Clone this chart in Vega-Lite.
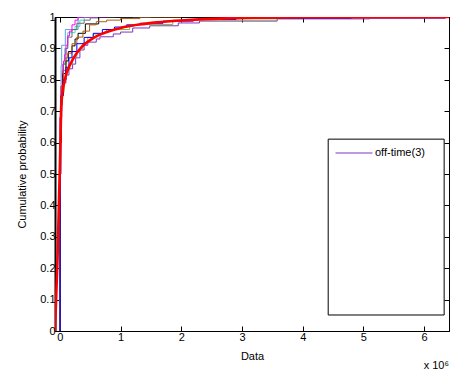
{
  "$schema": "https://vega.github.io/schema/vega-lite/v6.json",
  "width": 394,
  "height": 314,
  "autosize": {"type": "none"},
  "padding": {"left": 55, "top": 17, "right": 9, "bottom": 50},
  "config": {
    "view": {"stroke": "black", "strokeWidth": 1},
    "font": "Liberation Sans",
    "axis": {
      "grid": false, "domainColor": "black", "tickColor": "black", "labelColor": "black", "titleColor": "black",
      "labelFont": "Liberation Sans", "titleFont": "Liberation Sans", "labelFontSize": 11, "titleFontSize": 11,
      "titleFontWeight": "normal", "tickSize": -5, "labelPadding": 5
    }
  },
  "data": {"values": [
    {"series": "off-time(3)", "v": 0, "p": 0}, {"series": "off-time(3)", "v": 0, "p": 0.68}, {"series": "off-time(3)", "v": 0.01, "p": 0.72}, {"series": "off-time(3)", "v": 0.03, "p": 0.76}, {"series": "off-time(3)", "v": 0.06, "p": 0.79}, {"series": "off-time(3)", "v": 0.1, "p": 0.815}, {"series": "off-time(3)", "v": 0.15, "p": 0.835}, {"series": "off-time(3)", "v": 0.21, "p": 0.85}, {"series": "off-time(3)", "v": 0.26, "p": 0.87}, {"series": "off-time(3)", "v": 0.33, "p": 0.895}, {"series": "off-time(3)", "v": 0.4, "p": 0.91}, {"series": "off-time(3)", "v": 0.46, "p": 0.92}, {"series": "off-time(3)", "v": 0.6, "p": 0.93}, {"series": "off-time(3)", "v": 0.66, "p": 0.937}, {"series": "off-time(3)", "v": 0.88, "p": 0.946}, {"series": "off-time(3)", "v": 1.0, "p": 0.952}, {"series": "off-time(3)", "v": 1.2, "p": 0.965}, {"series": "off-time(3)", "v": 1.48, "p": 0.972}, {"series": "off-time(3)", "v": 1.95, "p": 0.981}, {"series": "off-time(3)", "v": 2.3, "p": 0.987}, {"series": "off-time(3)", "v": 3.58, "p": 0.994}, {"series": "off-time(3)", "v": 5.1, "p": 0.996}, {"series": "off-time(3)", "v": 6.35, "p": 1}, {"series": "off-time(3)", "v": 6.41, "p": 1},
    {"series": "off-time(1)", "v": 0, "p": 0}, {"series": "off-time(1)", "v": 0.003, "p": 0.57}, {"series": "off-time(1)", "v": 0.006, "p": 0.65}, {"series": "off-time(1)", "v": 0.02, "p": 0.72}, {"series": "off-time(1)", "v": 0.04, "p": 0.76}, {"series": "off-time(1)", "v": 0.07, "p": 0.8}, {"series": "off-time(1)", "v": 0.1, "p": 0.83}, {"series": "off-time(1)", "v": 0.15, "p": 0.85}, {"series": "off-time(1)", "v": 0.21, "p": 0.873}, {"series": "off-time(1)", "v": 0.28, "p": 0.89}, {"series": "off-time(1)", "v": 0.33, "p": 0.9}, {"series": "off-time(1)", "v": 0.38, "p": 0.917}, {"series": "off-time(1)", "v": 0.46, "p": 0.935}, {"series": "off-time(1)", "v": 0.55, "p": 0.946}, {"series": "off-time(1)", "v": 0.74, "p": 0.952}, {"series": "off-time(1)", "v": 0.77, "p": 0.96}, {"series": "off-time(1)", "v": 1.15, "p": 0.97}, {"series": "off-time(1)", "v": 1.22, "p": 0.976}, {"series": "off-time(1)", "v": 1.86, "p": 0.99}, {"series": "off-time(1)", "v": 3.58, "p": 0.995}, {"series": "off-time(1)", "v": 4.0, "p": 1}, {"series": "off-time(1)", "v": 4.5, "p": 1},
    {"series": "off-time(8)", "v": 0, "p": 0}, {"series": "off-time(8)", "v": 0.005, "p": 0.6}, {"series": "off-time(8)", "v": 0.02, "p": 0.845}, {"series": "off-time(8)", "v": 0.03, "p": 0.91}, {"series": "off-time(8)", "v": 0.09, "p": 0.96}, {"series": "off-time(8)", "v": 0.3, "p": 1}, {"series": "off-time(8)", "v": 0.7, "p": 1},
    {"series": "off-time(7)", "v": 0, "p": 0}, {"series": "off-time(7)", "v": 0.005, "p": 0.6}, {"series": "off-time(7)", "v": 0.02, "p": 0.78}, {"series": "off-time(7)", "v": 0.05, "p": 0.85}, {"series": "off-time(7)", "v": 0.08, "p": 0.9}, {"series": "off-time(7)", "v": 0.13, "p": 0.95}, {"series": "off-time(7)", "v": 0.25, "p": 0.97}, {"series": "off-time(7)", "v": 0.33, "p": 0.99}, {"series": "off-time(7)", "v": 0.4, "p": 1}, {"series": "off-time(7)", "v": 0.9, "p": 1},
    {"series": "off-time(9)", "v": 0, "p": 0}, {"series": "off-time(9)", "v": 0.005, "p": 0.6}, {"series": "off-time(9)", "v": 0.02, "p": 0.78}, {"series": "off-time(9)", "v": 0.05, "p": 0.85}, {"series": "off-time(9)", "v": 0.1, "p": 0.9}, {"series": "off-time(9)", "v": 0.13, "p": 0.936}, {"series": "off-time(9)", "v": 0.2, "p": 0.96}, {"series": "off-time(9)", "v": 0.28, "p": 0.98}, {"series": "off-time(9)", "v": 0.4, "p": 0.99}, {"series": "off-time(9)", "v": 0.5, "p": 0.997}, {"series": "off-time(9)", "v": 0.65, "p": 1}, {"series": "off-time(9)", "v": 1.5, "p": 1},
    {"series": "off-time(6)", "v": 0, "p": 0}, {"series": "off-time(6)", "v": 0.005, "p": 0.6}, {"series": "off-time(6)", "v": 0.02, "p": 0.78}, {"series": "off-time(6)", "v": 0.04, "p": 0.83}, {"series": "off-time(6)", "v": 0.06, "p": 0.86}, {"series": "off-time(6)", "v": 0.08, "p": 0.88}, {"series": "off-time(6)", "v": 0.1, "p": 0.91}, {"series": "off-time(6)", "v": 0.13, "p": 0.94}, {"series": "off-time(6)", "v": 0.16, "p": 0.955}, {"series": "off-time(6)", "v": 0.2, "p": 0.975}, {"series": "off-time(6)", "v": 0.25, "p": 0.99}, {"series": "off-time(6)", "v": 0.3, "p": 1}, {"series": "off-time(6)", "v": 0.8, "p": 1},
    {"series": "off-time(5)", "v": 0, "p": 0}, {"series": "off-time(5)", "v": 0.005, "p": 0.6}, {"series": "off-time(5)", "v": 0.02, "p": 0.75}, {"series": "off-time(5)", "v": 0.05, "p": 0.82}, {"series": "off-time(5)", "v": 0.1, "p": 0.86}, {"series": "off-time(5)", "v": 0.14, "p": 0.89}, {"series": "off-time(5)", "v": 0.2, "p": 0.908}, {"series": "off-time(5)", "v": 0.25, "p": 0.93}, {"series": "off-time(5)", "v": 0.3, "p": 0.948}, {"series": "off-time(5)", "v": 0.42, "p": 0.978}, {"series": "off-time(5)", "v": 0.64, "p": 1}, {"series": "off-time(5)", "v": 1.2, "p": 1},
    {"series": "off-time(4)", "v": 0, "p": 0}, {"series": "off-time(4)", "v": 0.005, "p": 0.5}, {"series": "off-time(4)", "v": 0.015, "p": 0.7}, {"series": "off-time(4)", "v": 0.03, "p": 0.78}, {"series": "off-time(4)", "v": 0.06, "p": 0.83}, {"series": "off-time(4)", "v": 0.1, "p": 0.87}, {"series": "off-time(4)", "v": 0.13, "p": 0.885}, {"series": "off-time(4)", "v": 0.2, "p": 0.915}, {"series": "off-time(4)", "v": 0.28, "p": 0.936}, {"series": "off-time(4)", "v": 0.38, "p": 0.955}, {"series": "off-time(4)", "v": 0.49, "p": 0.975}, {"series": "off-time(4)", "v": 0.6, "p": 0.985}, {"series": "off-time(4)", "v": 0.77, "p": 0.99}, {"series": "off-time(4)", "v": 1.0, "p": 0.995}, {"series": "off-time(4)", "v": 1.32, "p": 1}, {"series": "off-time(4)", "v": 2.0, "p": 1},
    {"series": "off-time(2)", "v": 0, "p": 0}, {"series": "off-time(2)", "v": 0.005, "p": 0.5}, {"series": "off-time(2)", "v": 0.015, "p": 0.68}, {"series": "off-time(2)", "v": 0.03, "p": 0.75}, {"series": "off-time(2)", "v": 0.06, "p": 0.8}, {"series": "off-time(2)", "v": 0.1, "p": 0.84}, {"series": "off-time(2)", "v": 0.15, "p": 0.87}, {"series": "off-time(2)", "v": 0.2, "p": 0.89}, {"series": "off-time(2)", "v": 0.28, "p": 0.915}, {"series": "off-time(2)", "v": 0.4, "p": 0.935}, {"series": "off-time(2)", "v": 0.55, "p": 0.948}, {"series": "off-time(2)", "v": 0.7, "p": 0.96}, {"series": "off-time(2)", "v": 0.9, "p": 0.968}, {"series": "off-time(2)", "v": 1.1, "p": 0.975}, {"series": "off-time(2)", "v": 1.32, "p": 0.98}, {"series": "off-time(2)", "v": 1.7, "p": 0.987}, {"series": "off-time(2)", "v": 2.2, "p": 0.992}, {"series": "off-time(2)", "v": 2.9, "p": 0.996}, {"series": "off-time(2)", "v": 4.8, "p": 0.998}, {"series": "off-time(2)", "v": 6.35, "p": 1}, {"series": "off-time(2)", "v": 6.41, "p": 1},
    {"series": "fit", "v": -0.08, "p": 0}, {"series": "fit", "v": -0.04, "p": 0.22}, {"series": "fit", "v": -0.01, "p": 0.45}, {"series": "fit", "v": 0.01, "p": 0.6}, {"series": "fit", "v": 0.02, "p": 0.7}, {"series": "fit", "v": 0.035, "p": 0.745}, {"series": "fit", "v": 0.06, "p": 0.78}, {"series": "fit", "v": 0.1, "p": 0.815}, {"series": "fit", "v": 0.15, "p": 0.84}, {"series": "fit", "v": 0.2, "p": 0.86}, {"series": "fit", "v": 0.28, "p": 0.885}, {"series": "fit", "v": 0.36, "p": 0.905}, {"series": "fit", "v": 0.45, "p": 0.92}, {"series": "fit", "v": 0.55, "p": 0.933}, {"series": "fit", "v": 0.7, "p": 0.947}, {"series": "fit", "v": 0.85, "p": 0.957}, {"series": "fit", "v": 1.0, "p": 0.965}, {"series": "fit", "v": 1.3, "p": 0.976}, {"series": "fit", "v": 1.6, "p": 0.983}, {"series": "fit", "v": 2.0, "p": 0.989}, {"series": "fit", "v": 2.5, "p": 0.994}, {"series": "fit", "v": 3.0, "p": 0.997}, {"series": "fit", "v": 4.0, "p": 0.999}, {"series": "fit", "v": 6.41, "p": 1}
  ]},
  "layer": [
    {
      "transform": [{"filter": "datum.series !== 'fit'"}],
      "mark": {"type": "line", "interpolate": "step-after", "clip": true},
      "encoding": {
        "x": {"field": "v", "type": "quantitative", "scale": {"domain": [-0.08, 6.41], "nice": false, "zero": false},
              "axis": {"orient": "bottom", "values": [0, 1, 2, 3, 4, 5, 6], "format": "d", "title": "Data", "titlePadding": 8}},
        "y": {"field": "p", "type": "quantitative", "scale": {"domain": [0, 1], "nice": false, "zero": false},
              "axis": {"orient": "left", "values": [0, 0.1, 0.2, 0.3, 0.4, 0.5, 0.6, 0.7, 0.8, 0.9, 1], "format": "~g", "title": "Cumulative probability", "titlePadding": 12, "domainWidth": 2}},
        "color": {"field": "series", "type": "nominal",
                  "scale": {"domain": ["off-time(3)", "off-time(1)", "off-time(8)", "off-time(7)", "off-time(9)", "off-time(6)", "off-time(5)", "off-time(4)", "off-time(2)"],
                            "range": ["#7B35C9", "#7DBB3A", "#5DA5DA", "#40D8C8", "#6E6E6E", "#FF00FF", "#000000", "#B05A10", "#0000FF"]},
                  "legend": {"values": ["off-time(3)"], "title": null, "orient": "none", "legendX": 280, "legendY": 117, "symbolType": "stroke", "symbolSize": 1369, "symbolStrokeWidth": 1, "labelFontSize": 11, "labelFont": "Liberation Sans", "labelColor": "black", "labelOffset": 2, "padding": 0}},
        "strokeWidth": {"field": "series", "type": "nominal",
                  "scale": {"domain": ["off-time(3)", "off-time(1)", "off-time(8)", "off-time(7)", "off-time(9)", "off-time(6)", "off-time(5)", "off-time(4)", "off-time(2)"],
                            "range": [1, 1, 1.8, 1.5, 1.5, 2, 1.5, 1.8, 2]},
                  "legend": null}
      }
    },
    {
      "transform": [{"filter": "datum.series === 'fit'"}],
      "mark": {"type": "line", "color": "#FF0000", "strokeWidth": 2.6, "interpolate": "monotone", "clip": true},
      "encoding": {
        "x": {"field": "v", "type": "quantitative", "axis": null},
        "y": {"field": "p", "type": "quantitative", "axis": null}
      }
    },
    {
      "data": {"values": [{}]},
      "mark": {"type": "rect", "fill": "white", "stroke": "black", "strokeWidth": 1},
      "encoding": {
        "x": {"datum": 4.42, "type": "quantitative", "axis": null},
        "x2": {"datum": 6.33},
        "y": {"datum": 0.611, "type": "quantitative", "axis": null},
        "y2": {"datum": 0.051}
      }
    },
    {
      "data": {"values": [{}]},
      "mark": {"type": "text", "text": "x 10⁶", "align": "right", "baseline": "middle", "fontSize": 11, "font": "Liberation Sans", "color": "black"},
      "encoding": {
        "x": {"datum": 6.41, "type": "quantitative", "axis": null},
        "y": {"datum": -0.11, "type": "quantitative", "axis": null}
      }
    },
    {
      "mark": {"type": "point", "opacity": 0},
      "encoding": {
        "x": {"field": "v", "type": "quantitative", "axis": {"orient": "top", "values": [0, 1, 2, 3, 4, 5, 6], "labels": false, "title": null}},
        "y": {"field": "p", "type": "quantitative", "axis": {"orient": "right", "values": [0, 0.1, 0.2, 0.3, 0.4, 0.5, 0.6, 0.7, 0.8, 0.9, 1], "labels": false, "title": null}}
      }
    }
  ],
  "resolve": {"axis": {"x": "independent", "y": "independent"}}
}
